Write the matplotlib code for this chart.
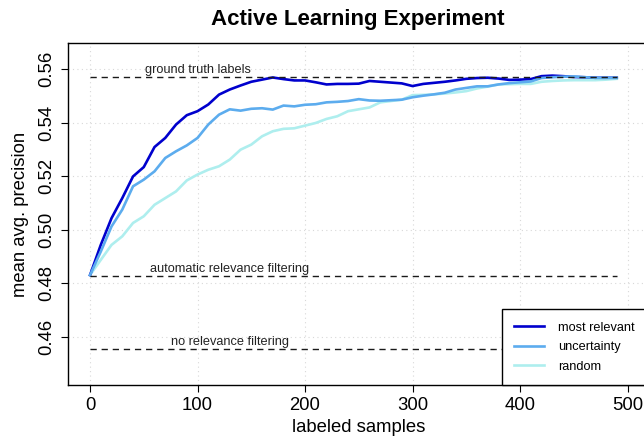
import matplotlib
matplotlib.use('Agg')
import matplotlib.pyplot as plt
import numpy as np

plt.rcParams['font.family'] = ['Liberation Sans', 'DejaVu Sans']

samples = np.arange(0, 500, 10)

most_relevant = [0.4830, 0.4943, 0.5043, 0.5118, 0.5199, 0.5234, 0.5309, 0.5343, 0.5393, 0.5428,
                 0.5443, 0.5468, 0.5505, 0.5524, 0.5539, 0.5553, 0.5561, 0.5569, 0.5563, 0.5558,
                 0.5558, 0.5551, 0.5543, 0.5545, 0.5545, 0.5546, 0.5556, 0.5553, 0.5550, 0.5547,
                 0.5537, 0.5545, 0.5549, 0.5553, 0.5558, 0.5564, 0.5567, 0.5568, 0.5565, 0.5560,
                 0.5561, 0.5563, 0.5574, 0.5576, 0.5574, 0.5571, 0.5570, 0.5568, 0.5568, 0.5568]
uncertainty = [0.4830, 0.4918, 0.5012, 0.5075, 0.5162, 0.5187, 0.5218, 0.5268, 0.5293, 0.5315,
               0.5343, 0.5393, 0.5430, 0.5450, 0.5445, 0.5452, 0.5454, 0.5449, 0.5464, 0.5461,
               0.5467, 0.5469, 0.5476, 0.5478, 0.5481, 0.5488, 0.5483, 0.5482, 0.5484, 0.5486,
               0.5495, 0.5501, 0.5506, 0.5512, 0.5524, 0.5530, 0.5536, 0.5536, 0.5543, 0.5548,
               0.5551, 0.5554, 0.5567, 0.5570, 0.5572, 0.5573, 0.5570, 0.5568, 0.5568, 0.5568]
random_sel = [0.4830, 0.4887, 0.4943, 0.4975, 0.5025, 0.5050, 0.5093, 0.5118, 0.5143, 0.5184,
              0.5206, 0.5224, 0.5237, 0.5262, 0.5299, 0.5318, 0.5349, 0.5368, 0.5377, 0.5379,
              0.5389, 0.5399, 0.5414, 0.5424, 0.5443, 0.5450, 0.5457, 0.5476, 0.5481, 0.5486,
              0.5503, 0.5504, 0.5506, 0.5509, 0.5513, 0.5518, 0.5528, 0.5535, 0.5543, 0.5544,
              0.5545, 0.5545, 0.5553, 0.5556, 0.5558, 0.5559, 0.5559, 0.5559, 0.5561, 0.5564]

# reference levels
ground_truth = 0.5570
auto_filter = 0.4828
no_filter = 0.4553

fig = plt.figure(figsize=(6.44, 4.43), dpi=100)
ax = fig.add_axes([68/644, 58/443, 581/644, 342/443])

ax.grid(True, color='#d8d8d8', linestyle=(0, (1, 3)), linewidth=0.8)
ax.set_axisbelow(True)

ax.plot(samples, most_relevant, color='#0000cd', lw=1.9, label='most relevant', zorder=3)
ax.plot(samples, uncertainty, color='#5cacee', lw=1.9, label='uncertainty', zorder=3)
ax.plot(samples, random_sel, color='#aeeeee', lw=1.9, label='random', zorder=2)

for lvl, txt, xt in [(ground_truth, 'ground truth labels', 100),
                     (auto_filter, 'automatic relevance filtering', 130),
                     (no_filter, 'no relevance filtering', 130)]:
    ax.plot([samples[0], samples[-1]], [lvl, lvl], color='#1a1a1a', lw=1,
            linestyle=(0, (4.5, 3.5)), zorder=4)
    ax.text(xt, lvl + 0.0003, txt, ha='center', va='bottom', fontsize=9.2, color='#222222')

ax.set_xlim(-20.5, 520)
ax.set_ylim(0.4419, 0.5698)
ax.set_xticks([0, 100, 200, 300, 400, 500])
ax.set_yticks([0.46, 0.48, 0.50, 0.52, 0.54, 0.56])
ax.set_yticklabels(['0.46', '0.48', '0.50', '0.52', '0.54', '0.56'], rotation=90, va='center')
ax.tick_params(labelsize=13.3, length=5, width=0.8, pad=4)

for s in ax.spines.values():
    s.set_linewidth(1.0)

ax.set_xlabel('labeled samples', fontsize=13.3, labelpad=3)
ax.set_ylabel('mean avg. precision', fontsize=13.3, labelpad=7)
fig.text(358/644, 1 - 19/443, 'Active Learning Experiment', ha='center', va='center',
         fontsize=16, fontweight='bold')

leg = ax.legend(loc='lower left', bbox_to_anchor=((502 - 68) / 581, 0), fontsize=9.2,
                frameon=True, fancybox=False, edgecolor='black', framealpha=1,
                handlelength=2.35, handletextpad=1.1, labelspacing=0.6, borderpad=0.95,
                borderaxespad=0)
leg.get_frame().set_linewidth(1.0)

fig.savefig('out.png', dpi=100)
